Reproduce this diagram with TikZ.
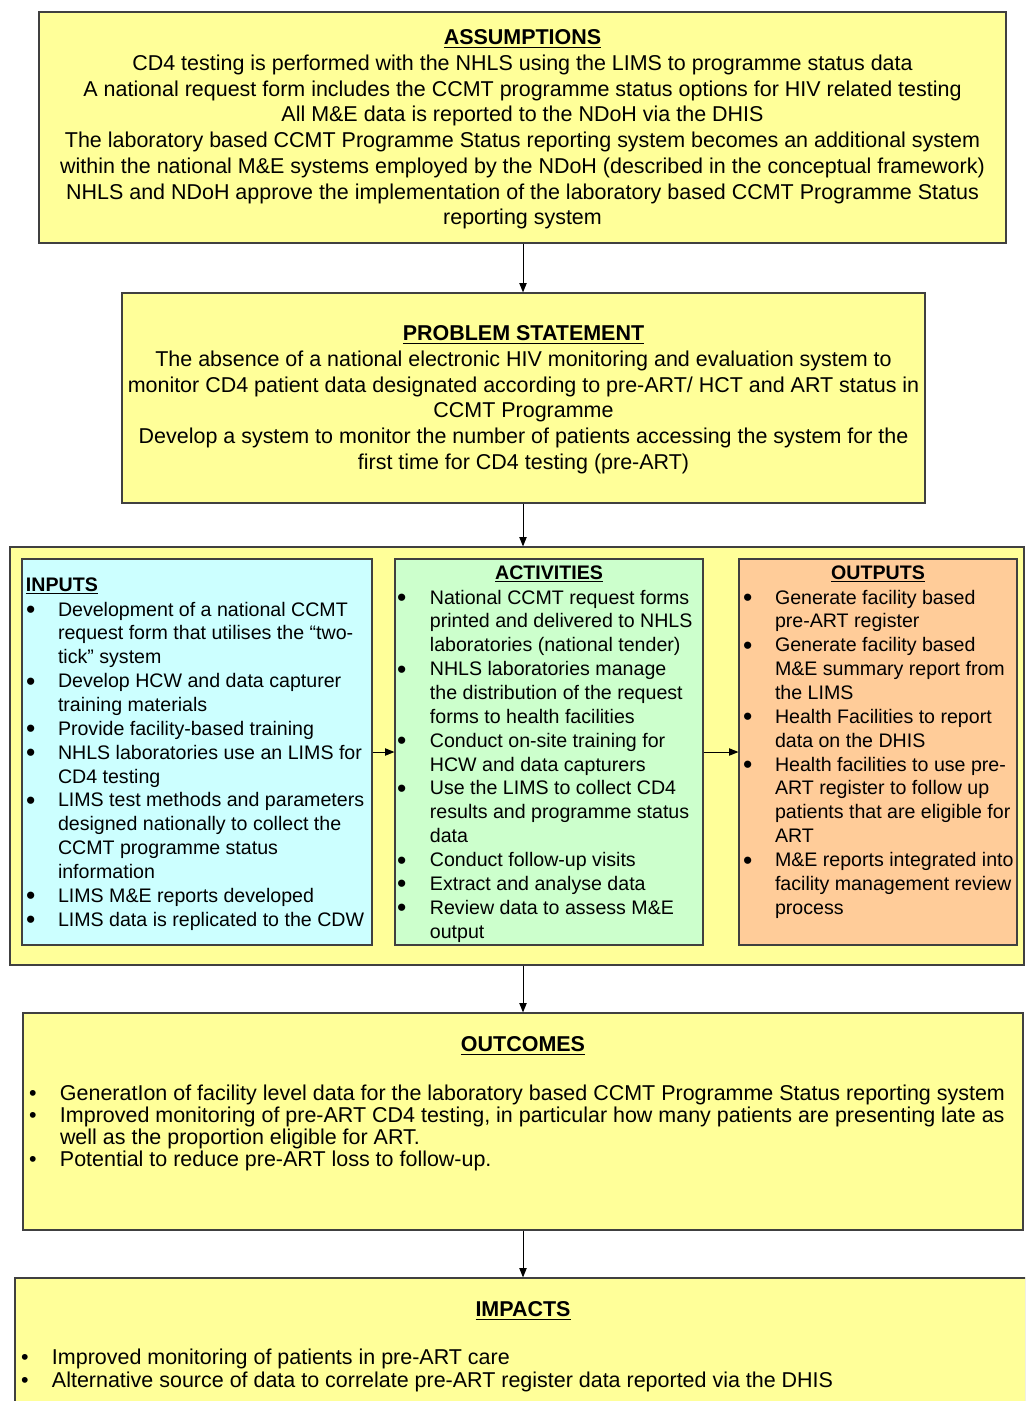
\documentclass[tikz,border=0pt]{standalone}
\usepackage{fontspec}
\usepackage{graphicx}
\setmainfont{Liberation Sans}
\usetikzlibrary{arrows.meta,fit,shadows}
\definecolor{boxyel}{HTML}{FFFF99}
\definecolor{boxcyan}{HTML}{CCFFFF}
\definecolor{boxgreen}{HTML}{CCFFCC}
\definecolor{boxorange}{HTML}{FFCC99}
\definecolor{edge}{HTML}{404040}
\newcommand{\bigfont}{\fontsize{16.1}{19.3}\selectfont}
\newcommand{\listfont}{\fontsize{14.7}{17.9}\selectfont}
\newcommand{\outfont}{\fontsize{16.1}{16.3}\selectfont}
\newcommand{\impfont}{\fontsize{16.1}{16.5}\selectfont}
\newcommand{\ttl}[1]{\underline{\textbf{#1}}}
\newcommand{\bu}{\hspace*{-0.07em}\raisebox{-0.13em}{\scalebox{1.35}{\textbullet}}}
\newcommand{\bus}{\textbullet}
\tikzset{
  box/.style={draw=edge, line width=0.9pt, inner sep=0pt,
    drop shadow={shadow xshift=0.8pt, shadow yshift=-0.8pt, fill=black!55, opacity=1}},
  txt/.style={inner sep=0pt, outer sep=0pt, text=black},
  arr/.style={draw=black, line width=0.75pt, -{Triangle[length=7pt,width=5.5pt]}},
}
\begin{document}
\begin{tikzpicture}[x=0.75pt,y=-0.75pt]
\useasboundingbox (0,0) rectangle (1025,1401);
\clip (0,0) rectangle (1025,1401);

% ---- boxes ----
\node[box, fill=boxyel, fit={(39,12)(1006,243)}] (assump) {};
\node[box, fill=boxyel, fit={(122,293)(925,503)}] (problem) {};
\node[box, fill=boxyel, fit={(10,547)(1024,965)}] (container) {};
\node[box, fill=boxcyan, fit={(22,559)(372,945)}] (inputs) {};
\node[box, fill=boxgreen, fit={(395,559)(703,945)}] (activities) {};
\node[box, fill=boxorange, fit={(739,559)(1017,945)}] (outputs) {};
\node[box, fill=boxyel, fit={(23,1013)(1023,1230)}] (outcomes) {};
\node[box, fill=boxyel, fit={(15,1278)(1060,1440)}] (impacts) {};

% ---- assumptions ----
\node[txt, anchor=north] (assumptxt) at (522.5,26.7) {\bigfont
\begin{tabular}{@{}c@{}}
\ttl{ASSUMPTIONS}\\
CD4 testing is performed with the NHLS using the LIMS to programme status data\\
A national request form includes the CCMT programme status options for HIV related testing\\
All M\&E data is reported to the NDoH via the DHIS\\
The laboratory based CCMT Programme Status reporting system becomes an additional system\\
within the national M\&E systems employed by the NDoH (described in the conceptual framework)\\
NHLS and NDoH approve the implementation of the laboratory based CCMT Programme Status\\
reporting system
\end{tabular}};

% ---- problem statement ----
\node[txt, anchor=north] (problemtxt) at (523.5,322.7) {\bigfont
\begin{tabular}{@{}c@{}}
\ttl{PROBLEM STATEMENT}\\
The absence of a national electronic HIV monitoring and evaluation system to\\
monitor CD4 patient data designated according to pre-ART/ HCT and ART status in\\
CCMT Programme\\
Develop a system to monitor the number of patients accessing the system for the\\
first time for CD4 testing (pre-ART)
\end{tabular}};

% ---- inputs ----
\node[txt, anchor=base west] (inputsttl) at (26,591) {\listfont\ttl{INPUTS}};
\node[txt, anchor=north west] (inputslist) at (27.6,599.3) {\listfont
\begin{tabular}{@{}p{22.8pt}@{}l@{}}
\bu & Development of a national CCMT\\
    & request form that utilises the “two-\\
    & tick” system\\
\bu & Develop HCW and data capturer\\
    & training materials\\
\bu & Provide facility-based training\\
\bu & NHLS laboratories use an LIMS for\\
    & CD4 testing\\
\bu & LIMS test methods and parameters\\
    & designed nationally to collect the\\
    & CCMT programme status\\
    & information\\
\bu & LIMS M\&E reports developed\\
\bu & LIMS data is replicated to the CDW
\end{tabular}};

% ---- activities ----
\node[txt, anchor=base] (activitiesttl) at (549,579) {\listfont\ttl{ACTIVITIES}};
\node[txt, anchor=north west] (activitieslist) at (398.6,587.3) {\listfont
\begin{tabular}{@{}p{23.5pt}@{}l@{}}
\bu & National CCMT request forms\\
    & printed and delivered to NHLS\\
    & laboratories (national tender)\\
\bu & NHLS laboratories manage\\
    & the distribution of the request\\
    & forms to health facilities\\
\bu & Conduct on-site training for\\
    & HCW and data capturers\\
\bu & Use the LIMS to collect CD4\\
    & results and programme status\\
    & data\\
\bu & Conduct follow-up visits\\
\bu & Extract and analyse data\\
\bu & Review data to assess M\&E\\
    & output
\end{tabular}};

% ---- outputs ----
\node[txt, anchor=base] (outputsttl) at (878,579) {\listfont\ttl{OUTPUTS}};
\node[txt, anchor=north west] (outputslist) at (744.6,587.3) {\listfont
\begin{tabular}{@{}p{22.8pt}@{}l@{}}
\bu & Generate facility based\\
    & pre-ART register\\
\bu & Generate facility based\\
    & M\&E summary report from\\
    & the LIMS\\
\bu & Health Facilities to report\\
    & data on the DHIS\\
\bu & Health facilities to use pre-\\
    & ART register to follow up\\
    & patients that are eligible for\\
    & ART\\
\bu & M\&E reports integrated into\\
    & facility management review\\
    & process
\end{tabular}};

% ---- outcomes ----
\node[txt, anchor=base] (outcomesttl) at (523,1051.7) {\outfont\ttl{OUTCOMES}};
\node[txt, anchor=north west] (outcomeslist) at (29.2,1084.5) {\outfont
\begin{tabular}{@{}p{23.1pt}@{}l@{}}
\bus & GeneratIon of facility level data for the laboratory based CCMT Programme Status reporting system\\
\bus & Improved monitoring of pre-ART CD4 testing, in particular how many patients are presenting late as\\
     & well as the proportion eligible for ART.\\
\bus & Potential to reduce pre-ART loss to follow-up.
\end{tabular}};

% ---- impacts ----
\node[txt, anchor=base] (impactsttl) at (523,1316.7) {\impfont\ttl{IMPACTS}};
\node[txt, anchor=north west] (impactslist) at (21.2,1349.3) {\impfont
\begin{tabular}{@{}p{23.1pt}@{}l@{}}
\bus & Improved monitoring of patients in pre-ART care\\
\bus & Alternative source of data to correlate pre-ART register data reported via the DHIS
\end{tabular}};

% ---- connectors ----
\coordinate (mid) at (523,0);
\draw[arr] (mid |- assump.south) -- (mid |- problem.north);
\draw[arr] (mid |- problem.south) -- (mid |- container.north);
\draw[arr] (inputs.east) -- (activities.west);
\draw[arr] (activities.east) -- (outputs.west);
\draw[arr] (mid |- container.south) -- (mid |- outcomes.north);
\draw[arr] (mid |- outcomes.south) -- (mid |- impacts.north);
\end{tikzpicture}
\end{document}
